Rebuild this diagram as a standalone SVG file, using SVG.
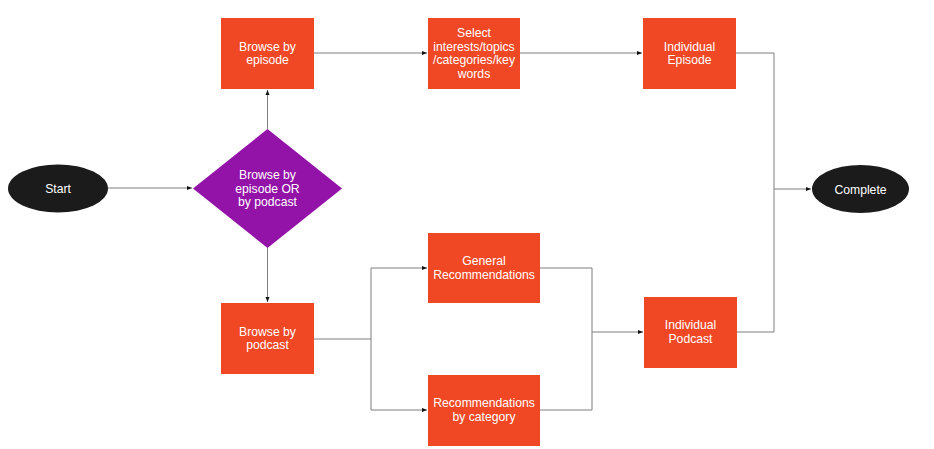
<svg xmlns="http://www.w3.org/2000/svg" width="934" height="449" viewBox="0 0 934 449">
<defs>
<style>
.box{fill:#F04825;}
.term{fill:#1B1B1B;}
.dec{fill:#9312A8;}
.t{fill:#ffffff;font-family:"Liberation Sans",Arial,sans-serif;font-size:12.2px;text-anchor:middle;}
.c{fill:none;stroke:#7f7f7f;stroke-width:1;}
</style>
<marker id="ah" markerWidth="6" markerHeight="6" refX="5" refY="3" orient="auto" markerUnits="userSpaceOnUse">
<path d="M0,1 L5,3 L0,5 Z" fill="#111"/>
</marker>
</defs>
<rect width="934" height="449" fill="#ffffff"/>
<g id="connectors">
<path class="c" d="M107,188 H192" marker-end="url(#ah)"/>
<path class="c" d="M267.5,129 V90" marker-end="url(#ah)"/>
<path class="c" d="M267.5,248 V302" marker-end="url(#ah)"/>
<path class="c" d="M314,53 H427" marker-end="url(#ah)"/>
<path class="c" d="M520,53 H642" marker-end="url(#ah)"/>
<path class="c" d="M736,53 H774 V332 H737"/>
<path class="c" d="M774,189 H811" marker-end="url(#ah)"/>
<path class="c" d="M314,339 H371"/>
<path class="c" d="M371,268 V410"/>
<path class="c" d="M371,268 H427" marker-end="url(#ah)"/>
<path class="c" d="M371,410 H427" marker-end="url(#ah)"/>
<path class="c" d="M540,268 H592 V410 H540"/>
<path class="c" d="M592,332 H643" marker-end="url(#ah)"/>
</g>
<g id="start">
<ellipse class="term" cx="58" cy="188.5" rx="50" ry="24"/>
<text class="t" x="58" y="193">Start</text>
</g>
<g id="decision">
<polygon class="dec" points="267.5,129 342,188.5 267.5,248 193,188.5"/>
<text class="t" x="267.5" y="179">Browse by</text>
<text class="t" x="267.5" y="192.5">episode OR</text>
<text class="t" x="267.5" y="206">by podcast</text>
</g>
<g id="browse-episode">
<rect class="box" x="221" y="18" width="93" height="71"/>
<text class="t" x="267.5" y="50.5">Browse by</text>
<text class="t" x="267.5" y="64">episode</text>
</g>
<g id="select-interests">
<rect class="box" x="428" y="18" width="92" height="71"/>
<text class="t" x="474" y="37">Select</text>
<text class="t" x="474" y="50.5">interests/topics</text>
<text class="t" x="474" y="64">/categories/key</text>
<text class="t" x="474" y="77.5">words</text>
</g>
<g id="individual-episode">
<rect class="box" x="643" y="18" width="93" height="71"/>
<text class="t" x="689.5" y="50.5">Individual</text>
<text class="t" x="689.5" y="64">Episode</text>
</g>
<g id="complete">
<ellipse class="term" cx="860.5" cy="189" rx="48.5" ry="24"/>
<text class="t" x="860.5" y="193.5">Complete</text>
</g>
<g id="browse-podcast">
<rect class="box" x="221" y="303" width="93" height="71"/>
<text class="t" x="267.5" y="335.5">Browse by</text>
<text class="t" x="267.5" y="349">podcast</text>
</g>
<g id="general-recs">
<rect class="box" x="428" y="233" width="112" height="70"/>
<text class="t" x="484" y="265">General</text>
<text class="t" x="484" y="278.5">Recommendations</text>
</g>
<g id="category-recs">
<rect class="box" x="428" y="375" width="112" height="71"/>
<text class="t" x="484" y="407">Recommendations</text>
<text class="t" x="484" y="420.5">by category</text>
</g>
<g id="individual-podcast">
<rect class="box" x="644" y="297" width="93" height="71"/>
<text class="t" x="690.5" y="329">Individual</text>
<text class="t" x="690.5" y="342.5">Podcast</text>
</g>
</svg>
